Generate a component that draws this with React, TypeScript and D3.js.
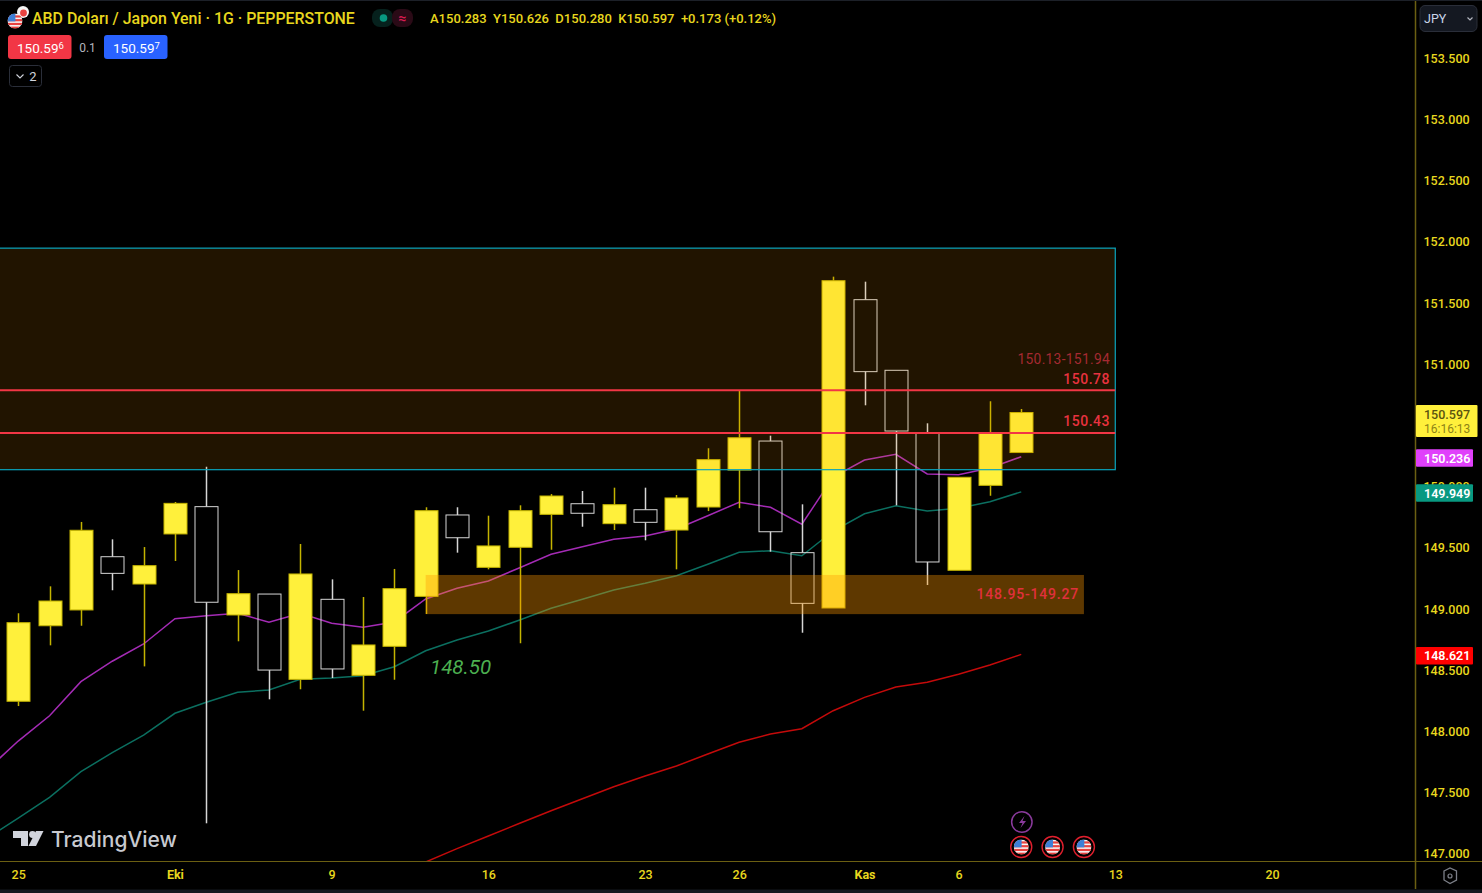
import * as d3 from 'd3';
import { useRef, useEffect } from 'react';

// daily candles, index 0 = 25 Eylul
const opens = [148.238, 148.855, 148.984, 149.419, 149.196, 149.605, 149.828, 148.943, 149.114, 148.417, 149.071, 148.45, 148.687, 149.095, 149.76, 149.332, 149.496, 149.765, 149.852, 149.689, 149.803, 149.637, 149.825, 150.127, 150.364, 149.452, 149.0, 151.519, 150.942, 150.427, 149.308, 150.002, 150.27];
const highs = [148.957, 149.177, 149.703, 149.561, 149.498, 149.866, 150.154, 149.31, 149.114, 149.523, 149.234, 149.09, 149.319, 149.823, 149.823, 149.754, 149.839, 149.931, 149.956, 149.983, 149.983, 149.923, 150.305, 150.773, 150.408, 149.847, 151.707, 151.666, 150.942, 150.509, 150.068, 150.689, 150.626];
const lows = [148.199, 148.695, 148.855, 149.145, 148.523, 149.384, 147.241, 148.728, 148.254, 148.336, 148.428, 148.161, 148.414, 148.951, 149.452, 149.316, 148.712, 149.476, 149.664, 149.637, 149.553, 149.316, 149.792, 149.815, 149.46, 148.798, 149.0, 150.656, 149.839, 149.188, 149.308, 149.917, 150.27];
const closes = [148.88, 149.057, 149.635, 149.283, 149.346, 149.855, 149.047, 149.117, 148.493, 149.278, 148.502, 148.698, 149.158, 149.795, 149.574, 149.507, 149.795, 149.915, 149.774, 149.844, 149.7, 149.899, 150.212, 150.391, 149.623, 149.038, 151.674, 150.931, 150.446, 149.376, 150.068, 150.427, 150.597];

// moving averages, the first two start one bar left of the view
const emaFast = [147.676, 147.913, 148.12, 148.398, 148.565, 148.706, 148.913, 148.937, 148.957, 148.883, 148.957, 148.875, 148.842, 148.886, 149.074, 149.161, 149.221, 149.329, 149.439, 149.501, 149.561, 149.588, 149.645, 149.754, 149.864, 149.823, 149.684, 150.07, 150.209, 150.256, 150.095, 150.089, 150.144, 150.236];
const emaMid = [147.118, 147.284, 147.453, 147.663, 147.818, 147.962, 148.14, 148.23, 148.311, 148.33, 148.417, 148.428, 148.447, 148.52, 148.651, 148.739, 148.812, 148.902, 148.998, 149.071, 149.147, 149.202, 149.264, 149.357, 149.455, 149.468, 149.427, 149.629, 149.77, 149.836, 149.792, 149.815, 149.868, 149.949];
const emaSlow = [146.925, 147.034, 147.137, 147.241, 147.344, 147.442, 147.54, 147.627, 147.709, 147.807, 147.903, 147.971, 148.014, 148.161, 148.27, 148.355, 148.394, 148.459, 148.534, 148.621];

// 150.500 sits behind the last-price tag in the reference
const priceTicks = [147, 147.5, 148, 148.5, 149, 149.5, 150, 151, 151.5, 152, 152.5, 153, 153.5];
const timeTickIdx = [0, 5, 10, 15, 20, 23, 27, 30, 35, 40];
const timeTickLabels = ['25', 'Eki', '9', '16', '23', '26', 'Kas', '6', '13', '20'];
const eventIdx = [32, 33, 34];

const FONT = 'Roboto, sans-serif';
const YEL = '#e8d71e';
const W = 1482;
const H = 893;
const plotW = 1415.5;
const plotH = 861;

const x = d3.scaleLinear().domain([0, 40]).range([18.2, 1272]);
const y = d3.scaleLinear().domain([147, 153.5]).range([852.8, 57.2]);

export default function App() {
    const svgRef = useRef<SVGSVGElement>(null);

    useEffect(() => {
        if (!svgRef.current) return;
        document.body.style.margin = '0';
        const svg = d3.select(svgRef.current);
        svg.selectAll('*').remove();

        svg.append('rect').attr('width', W).attr('height', H).attr('fill', '#000');
        const defs = svg.append('defs');
        defs.append('clipPath').attr('id', 'plot').append('rect').attr('width', plotW).attr('height', plotH);

        const plot = svg.append('g').attr('clip-path', 'url(#plot)');

        // averages go under the candles
        const line = d3.line<number>().x(d => d[0]).y(d => d[1]);
        const drawEma = (vals: number[], firstIdx: number, color: string) => {
            plot.append('path')
                .attr('d', line(vals.map((v, i) => [x(firstIdx + i), y(v)] as any) as any))
                .attr('fill', 'none')
                .attr('stroke', color)
                .attr('stroke-width', 1.5);
        };
        drawEma(emaFast, -1, '#a42bb5');
        drawEma(emaMid, -1, '#0b6f60');
        drawEma(emaSlow, 13, '#c40a0a');

        // candles
        const bw = 23;
        closes.forEach((c, i) => {
            const up = c >= opens[i];
            const top = y(Math.max(c, opens[i]));
            const bot = y(Math.min(c, opens[i]));
            const cx = Math.round(x(i)) + 0.5;
            const wick = up ? '#c4b400' : '#d6d6d6';
            if (highs[i] > Math.max(c, opens[i])) {
                plot.append('line').attr('x1', cx).attr('x2', cx).attr('y1', y(highs[i])).attr('y2', top)
                    .attr('stroke', wick).attr('stroke-width', 1.5);
            }
            if (lows[i] < Math.min(c, opens[i])) {
                plot.append('line').attr('x1', cx).attr('x2', cx).attr('y1', bot).attr('y2', y(lows[i]))
                    .attr('stroke', wick).attr('stroke-width', 1.5);
            }
            plot.append('rect')
                .attr('x', cx - bw / 2).attr('y', top).attr('width', bw).attr('height', bot - top)
                .attr('fill', up ? '#fff03b' : 'none')
                .attr('stroke', up ? '#c4b400' : '#d6d6d6')
                .attr('stroke-width', 1);
        });

        // zones and levels on top
        plot.append('rect')
            .attr('x', -2).attr('width', x(35) + 2).attr('y', y(151.94)).attr('height', y(150.13) - y(151.94))
            .attr('fill', '#ff9800').attr('fill-opacity', 0.13);
        plot.append('rect')
            .attr('x', -2).attr('width', x(35) + 2).attr('y', y(151.94)).attr('height', y(150.13) - y(151.94))
            .attr('fill', 'none').attr('stroke', '#0aa5bd').attr('stroke-width', 1.2);
        plot.append('rect')
            .attr('x', x(13)).attr('width', x(34) - x(13)).attr('y', y(149.27)).attr('height', y(148.95) - y(149.27))
            .attr('fill', '#ff9800').attr('fill-opacity', 0.37);
        [150.78, 150.43].forEach(v => {
            plot.append('line').attr('x1', 0).attr('x2', x(35)).attr('y1', y(v)).attr('y2', y(v))
                .attr('stroke', '#f23645').attr('stroke-width', 2);
        });

        const label = (t: string, px: number, py: number, size: number, color: string, anchor = 'end', extra: any = {}) => {
            const s = svg.append('text').attr('x', px).attr('y', py).attr('font-family', FONT).attr('font-size', size)
                .attr('fill', color).attr('text-anchor', anchor).attr('dominant-baseline', 'central').text(t);
            Object.keys(extra).forEach(k => s.attr(k, extra[k]));
            return s;
        };
        label('150.13-151.94', 1110, 358.5, 13.8, '#a52a32', 'end', { 'letter-spacing': 0.3 });
        label('150.78', 1110, 378.5, 14, '#e8323f', 'end', { 'letter-spacing': 0.5, 'font-weight': 500 });
        label('150.43', 1110, 421, 14, '#e8323f', 'end', { 'letter-spacing': 0.5, 'font-weight': 500 });
        label('148.95-149.27', 1079, 593.5, 14, '#e0303c', 'end', { 'letter-spacing': 0.8, 'font-weight': 500 });
        label('148.50', 430, 667, 20.5, '#4caf50', 'start', { 'font-style': 'italic' });

        // axes
        const yAxis = svg.append('g').attr('transform', `translate(${plotW},1)`)
            .call(d3.axisRight(y).tickValues(priceTicks).tickFormat(d3.format('.3f') as any).tickSize(0).tickPadding(8));
        yAxis.select('.domain').remove();
        yAxis.selectAll('text').attr('font-family', FONT).attr('font-size', 12.5).attr('font-weight', 500).attr('fill', YEL);

        const xAxis = svg.append('g').attr('transform', `translate(0,${plotH})`)
            .call(d3.axisBottom(x).tickValues(timeTickIdx).tickFormat((_, i) => timeTickLabels[i]).tickSize(0).tickPadding(9));
        xAxis.select('.domain').remove();
        xAxis.selectAll('text').attr('font-family', FONT).attr('font-size', 12.5).attr('fill', YEL)
            .attr('font-weight', (_, i) => (timeTickLabels[i] === 'Eki' || timeTickLabels[i] === 'Kas' ? 700 : 500));

        svg.append('line').attr('x1', 0).attr('x2', W).attr('y1', plotH + 0.5).attr('y2', plotH + 0.5).attr('stroke', '#6b5f12');
        svg.append('line').attr('x1', plotW).attr('x2', plotW).attr('y1', 0).attr('y2', 889).attr('stroke', '#6b5f12').attr('stroke-width', 1.5);
        svg.append('rect').attr('y', 0).attr('width', W).attr('height', 1).attr('fill', '#1c2028');
        svg.append('rect').attr('y', 889.5).attr('width', W).attr('height', 3.5).attr('fill', '#14181f');

        // price tags
        const tag = (v: number, fill: string, w = 57) => {
            svg.append('rect').attr('x', 1416).attr('y', y(v) - 7.5).attr('width', w).attr('height', 17.5).attr('rx', 1).attr('fill', fill);
            label(d3.format('.3f')(v), 1424, y(v) + 1.5, 12.5, '#fff', 'start', { 'font-weight': 600 });
        };
        tag(emaFast[emaFast.length - 1], '#e040fb');
        tag(emaMid[emaMid.length - 1], '#089981');
        tag(emaSlow[emaSlow.length - 1], '#ff0000');
        svg.append('rect').attr('x', 1416).attr('y', 405).attr('width', 61.5).attr('height', 32).attr('rx', 1).attr('fill', '#fff03b');
        label(d3.format('.3f')(closes[closes.length - 1]), 1424, 414, 12.5, '#5a5310', 'start', { 'font-weight': 500 });
        label('16:16:13', 1424, 429, 12, '#8d8216', 'start');

        // header
        label('ABD Doları / Japon Yeni · 1G · PEPPERSTONE', 32, 18.5, 15.9, YEL, 'start', { 'font-weight': 500 });
        svg.append('rect').attr('x', 372).attr('y', 9).attr('width', 21).attr('height', 18).attr('fill', '#06211d').attr('rx', 8);
        svg.append('rect').attr('x', 392).attr('y', 9).attr('width', 21).attr('height', 18).attr('fill', '#2a0a16').attr('rx', 8);
        svg.append('circle').attr('cx', 383.5).attr('cy', 18).attr('r', 3.8).attr('fill', '#089981');
        label('≈', 402.5, 17.5, 14, '#d81b50', 'middle', { 'font-weight': 700 });
        label('A150.283  Y150.626  D150.280  K150.597  +0.173 (+0.12%)', 430, 18.5, 13, YEL, 'start', { 'font-weight': 500, 'xml:space': 'preserve', style: 'white-space:pre' });

        svg.append('rect').attr('x', 8).attr('y', 35).attr('width', 63.5).attr('height', 24).attr('rx', 3).attr('fill', '#f23645');
        const red = label('150.59', 17, 47.5, 13.5, '#fff', 'start');
        red.append('tspan').attr('font-size', 9.5).attr('dy', -3).text('6');
        label('0.1', 87.5, 47.5, 12, '#b2b5be', 'middle');
        svg.append('rect').attr('x', 104).attr('y', 35).attr('width', 63.5).attr('height', 24).attr('rx', 3).attr('fill', '#2962ff');
        const blue = label('150.59', 113, 47.5, 13.5, '#fff', 'start');
        blue.append('tspan').attr('font-size', 9.5).attr('dy', -3).text('7');

        svg.append('rect').attr('x', 9.5).attr('y', 65.5).attr('width', 32).attr('height', 21).attr('rx', 3).attr('fill', 'none').attr('stroke', '#2a2e39');
        svg.append('path').attr('d', 'M16.5 74.5 l3.5 3.5 l3.5 -3.5').attr('fill', 'none').attr('stroke', '#d1d4dc').attr('stroke-width', 1.1);
        label('2', 33, 76.5, 13, '#d1d4dc', 'middle');

        // JPY button
        svg.append('rect').attr('x', 1420).attr('y', 5.5).attr('width', 57).attr('height', 26).attr('rx', 5).attr('fill', '#141821').attr('stroke', '#2a2e39');
        label('JPY', 1424, 18.5, 12.5, '#c9d6ea', 'start');
        svg.append('path').attr('d', 'M1467.5 17.5 l2.5 2.5 l2.5 -2.5').attr('fill', 'none').attr('stroke', '#b2b5be').attr('stroke-width', 1.2);

        // flag badges
        const flag = (cx: number, cy: number, r: number, id: string) => {
            const clip = defs.append('clipPath').attr('id', id);
            clip.append('circle').attr('cx', cx).attr('cy', cy).attr('r', r);
            const g = svg.append('g').attr('clip-path', `url(#${id})`);
            g.append('rect').attr('x', cx - r).attr('y', cy - r).attr('width', 2 * r).attr('height', 2 * r).attr('fill', '#f4f4f4');
            d3.range(4).forEach(k => {
                g.append('rect').attr('x', cx - r).attr('y', cy - r + r * 0.5 * k + r * 0.25).attr('width', 2 * r).attr('height', r * 0.25 + 0.3).attr('fill', '#e8413f');
            });
            g.append('rect').attr('x', cx - r).attr('y', cy - r).attr('width', r * 1.05).attr('height', r * 1.05).attr('fill', '#3d7fd6');
        };
        eventIdx.forEach((e, k) => {
            const cx = x(e);
            flag(cx, 847, 7.5, `f${k}`);
            svg.append('circle').attr('cx', cx).attr('cy', 847).attr('r', 10.5).attr('fill', 'none').attr('stroke', '#e01f2d').attr('stroke-width', 1.4);
        });
        svg.append('circle').attr('cx', x(32) + 0.6).attr('cy', 822).attr('r', 10.2).attr('fill', 'none').attr('stroke', '#8a3a9c').attr('stroke-width', 1.5);
        svg.append('path').attr('d', 'M1024.5 816 L1019 823 L1022.5 823 L1020.5 828 L1026 821 L1022.5 821 Z').attr('fill', '#8a3a9c');

        // header symbol icon
        svg.append('circle').attr('cx', 23).attr('cy', 12).attr('r', 6).attr('fill', '#f5f5f5');
        svg.append('circle').attr('cx', 23.5).attr('cy', 13).attr('r', 3.4).attr('fill', '#e8413f');
        flag(15, 21, 7.5, 'fh');

        // gear
        svg.append('path').attr('d', 'M1444 871 L1450 868 L1456.5 871 L1456.5 880 L1450 883.5 L1444 880 Z').attr('fill', 'none').attr('stroke', '#7c7f88').attr('stroke-width', 1.3);
        svg.append('circle').attr('cx', 1450).attr('cy', 876).attr('r', 2).attr('fill', 'none').attr('stroke', '#7c7f88').attr('stroke-width', 1.2);

        // watermark
        svg.append('path').attr('d', 'M13 831 H28 V846 H21 V838 H13 Z M36 831 H43.5 L36 846 H28.5 Z').attr('fill', '#d1d4dc');
        svg.append('circle').attr('cx', 32.5).attr('cy', 834.5).attr('r', 3.4).attr('fill', '#d1d4dc');
        label('TradingView', 51, 839, 21, '#c8cad0', 'start', { 'font-weight': 500, 'font-family': 'Inter, sans-serif' });
    }, []);

    return <svg ref={svgRef} width={W} height={H} style={{ position: 'absolute', top: 0, left: 0, display: 'block' }} />;
}
